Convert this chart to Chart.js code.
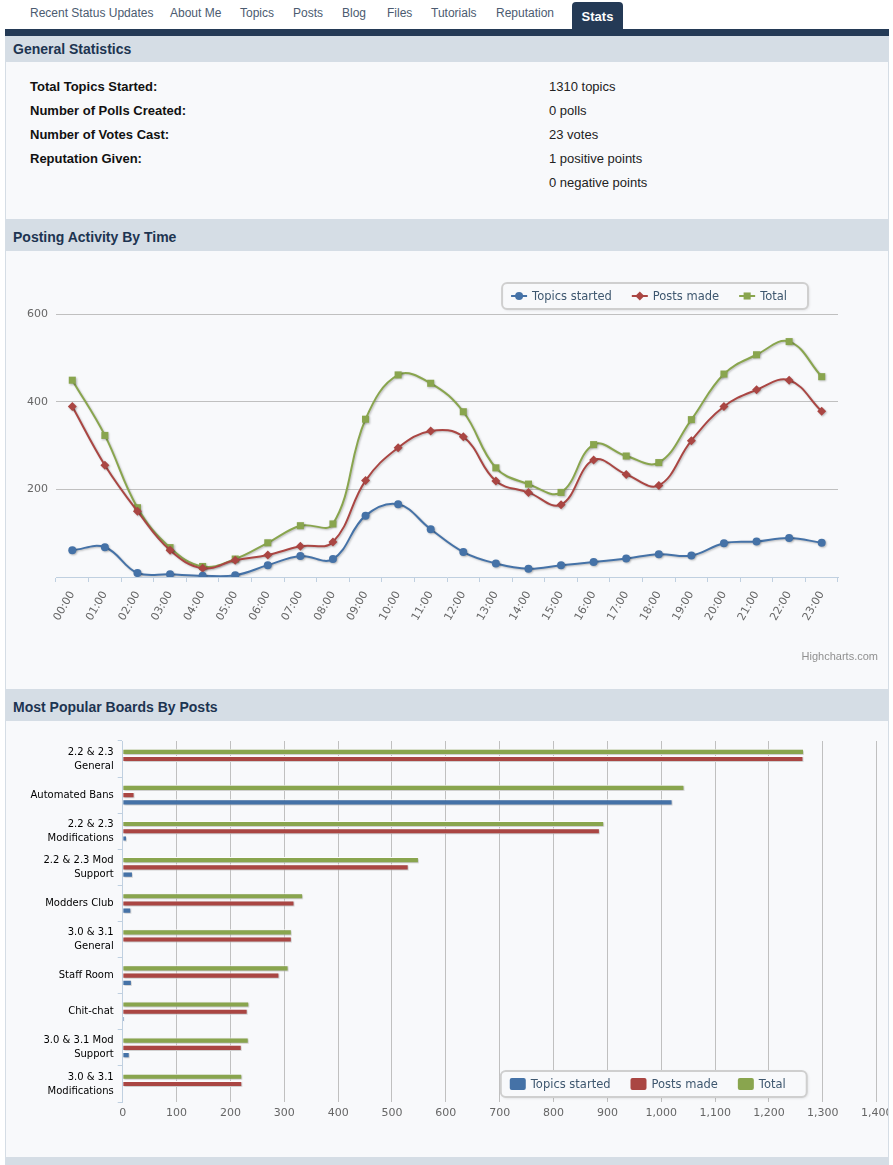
<!DOCTYPE html>
<html>
<head>
<meta charset="utf-8">
<title>Stats</title>
<script src="https://cdn.jsdelivr.net/npm/chart.js@4.4.1/dist/chart.umd.min.js"></script>
<style>
    body { margin: 0; width: 893px; height: 1165px; position: relative; overflow: hidden; background: #fff; font-family: "Liberation Sans", Arial, sans-serif; }
    .tab { position: absolute; top: 5px; line-height: 16px; font-size: 12px; color: #4b5b70; white-space: nowrap; }
    .tab.on { top: 2px; left: 572px; width: 51px; height: 27px; line-height: 29px; text-align: center; background: #243a56; border-radius: 4px 4px 0 0; color: #fff; font-weight: bold; font-size: 13px; }
    .rule { position: absolute; left: 5px; top: 29px; width: 884px; height: 7px; background: #243a56; }
    .head { position: absolute; left: 5px; width: 884px; box-sizing: border-box; padding-left: 8px; background: #d5dde5; color: #1d3451; font-weight: bold; font-size: 14px; }
    .panel { position: absolute; left: 5px; width: 884px; box-sizing: border-box; background: #f8f9fb; border-left: 1px solid #d5dde5; border-right: 1px solid #d5dde5; }
    .row { position: absolute; height: 24px; line-height: 24px; font-size: 13px; color: #222; white-space: nowrap; }
    .row b { color: #111; }
    .chartbox { position: absolute; left: 6px; overflow: hidden; }
    .credit { position: absolute; right: 15px; top: 650px; font-size: 11px; color: #909090; }
</style>
</head>
<body>

<div class="tab" style="left:30px">Recent Status Updates</div>
<div class="tab" style="left:170px">About Me</div>
<div class="tab" style="left:240px">Topics</div>
<div class="tab" style="left:293px">Posts</div>
<div class="tab" style="left:342px">Blog</div>
<div class="tab" style="left:387px">Files</div>
<div class="tab" style="left:431px">Tutorials</div>
<div class="tab" style="left:496px">Reputation</div>
<div class="tab on">Stats</div>
<div class="rule"></div>

<div class="head" style="top:36px;height:26px;line-height:27px">General Statistics</div>
<div class="panel" style="top:62px;height:157px"></div>
<div class="row" style="left:30px;top:75px"><b>Total Topics Started:</b></div>
<div class="row" style="left:549px;top:75px">1310 topics</div>
<div class="row" style="left:30px;top:99px"><b>Number of Polls Created:</b></div>
<div class="row" style="left:549px;top:99px">0 polls</div>
<div class="row" style="left:30px;top:123px"><b>Number of Votes Cast:</b></div>
<div class="row" style="left:549px;top:123px">23 votes</div>
<div class="row" style="left:30px;top:147px"><b>Reputation Given:</b></div>
<div class="row" style="left:549px;top:147px">1 positive points</div>
<div class="row" style="left:549px;top:171px">0 negative points</div>

<div class="head" style="top:219px;height:32px;line-height:37px">Posting Activity By Time</div>
<div class="panel" style="top:251px;height:438px"></div>
<div class="chartbox" style="top:251px;width:882px;height:438px">
    <canvas id="activityChart" width="882" height="438"></canvas>
</div>
<div class="credit">Highcharts.com</div>

<div class="head" style="top:689px;height:32px;line-height:36px">Most Popular Boards By Posts</div>
<div class="panel" style="top:721px;height:436px"></div>
<div class="chartbox" style="top:721px;width:882px;height:436px">
    <canvas id="boardsChart" width="900" height="436"></canvas>
</div>
<div class="head" style="top:1157px;height:8px"></div>

<script>
// posting activity per hour
const hours = ['00:00', '01:00', '02:00', '03:00', '04:00', '05:00', '06:00', '07:00', '08:00', '09:00', '10:00', '11:00',
    '12:00', '13:00', '14:00', '15:00', '16:00', '17:00', '18:00', '19:00', '20:00', '21:00', '22:00', '23:00'];
const topicsByHour = [61, 68, 9, 6, 3, 4, 27, 48, 41, 140, 166, 109, 57, 31, 19, 27, 34, 42, 52, 49, 77, 81, 89, 78];
const postsByHour = [389, 255, 150, 61, 20, 38, 50, 70, 80, 220, 295, 333, 320, 219, 193, 165, 267, 234, 209, 311, 389, 427, 449, 378];
const totalByHour = [449, 323, 158, 67, 24, 41, 78, 117, 121, 360, 461, 442, 377, 249, 212, 193, 302, 276, 261, 359, 463, 507, 537, 457];
const activityTicks = [200, 400, 600];

// posts per board
const boards = [['2.2 & 2.3', 'General'], 'Automated Bans', ['2.2 & 2.3', 'Modifications'], ['2.2 & 2.3 Mod', 'Support'],
    'Modders Club', ['3.0 & 3.1', 'General'], 'Staff Room', 'Chit-chat', ['3.0 & 3.1 Mod', 'Support'], ['3.0 & 3.1', 'Modifications']];
const boardTopics = [1, 1021, 8, 19, 16, 0, 17, 3, 13, 0];
const boardPosts = [1264, 22, 886, 531, 319, 314, 291, 232, 221, 222];
const boardTotal = [1265, 1043, 894, 550, 335, 314, 308, 235, 234, 222];
const boardTicks = [0, 100, 200, 300, 400, 500, 600, 700, 800, 900, 1000, 1100, 1200, 1300, 1400];

const BLUE = '#4572A7';
const RED = '#AA4643';
const GREEN = '#89A54E';

Chart.defaults.font.family = '"DejaVu Sans", sans-serif';
Chart.defaults.font.size = 11;
Chart.defaults.color = '#666';

// soft drop shadow under the series, like the original
const seriesShadow = {
    id: 'seriesShadow',
    beforeDatasetsDraw(chart) {
        const ctx = chart.ctx;
        ctx.save();
        ctx.shadowColor = 'rgba(0, 0, 0, 0.25)';
        ctx.shadowBlur = 2;
        ctx.shadowOffsetX = 1;
        ctx.shadowOffsetY = 1;
    },
    afterDatasetsDraw(chart) {
        chart.ctx.restore();
    }
};

function drawMarker(ctx, style, x, y, r) {
    ctx.beginPath();
    if (style === 'circle') {
        ctx.arc(x, y, r, 0, Math.PI * 2);
    } else if (style === 'rectRot') {
        ctx.moveTo(x - r, y);
        ctx.lineTo(x, y - r);
        ctx.lineTo(x + r, y);
        ctx.lineTo(x, y + r);
        ctx.closePath();
    } else {
        const s = r * Math.SQRT1_2;
        ctx.rect(x - s, y - s, 2 * s, 2 * s);
    }
    ctx.fill();
}

// legend in a rounded box, positioned from the plot area
const boxLegend = {
    id: 'boxLegend',
    afterDraw(chart, args, opts) {
        const { ctx, chartArea } = chart;
        const items = opts.order.map(i => chart.data.datasets[i]);

        ctx.save();
        ctx.font = '11.5px "DejaVu Sans"';
        const widths = items.map(d => ctx.measureText(d.label).width);
        const inner = widths.reduce((sum, w) => sum + 21 + w, 0) + 20 * (items.length - 1);
        const w = inner + 9 + 21;
        const h = 26;
        const x = chartArea.right - opts.right - w;
        const y = (opts.anchor === 'top' ? chartArea.top : chartArea.bottom) - opts.gap - h;

        ctx.shadowColor = 'rgba(0, 0, 0, 0.15)';
        ctx.shadowBlur = 3;
        ctx.shadowOffsetX = 1;
        ctx.shadowOffsetY = 1;
        ctx.beginPath();
        ctx.roundRect(x, y, w, h, 5);
        ctx.fillStyle = '#f8f9fb';
        ctx.fill();
        ctx.shadowColor = 'transparent';
        ctx.lineWidth = 2;
        ctx.strokeStyle = '#cfcfcf';
        ctx.stroke();

        let cx = x + 9;
        const cy = y + h / 2;
        ctx.textBaseline = 'middle';
        items.forEach((d, i) => {
            if (opts.marker === 'line') {
                ctx.strokeStyle = d.borderColor;
                ctx.lineWidth = 2;
                ctx.beginPath();
                ctx.moveTo(cx, cy);
                ctx.lineTo(cx + 16, cy);
                ctx.stroke();
                ctx.fillStyle = d.borderColor;
                drawMarker(ctx, d.pointStyle, cx + 8, cy, d.pointRadius);
            } else {
                ctx.fillStyle = d.backgroundColor;
                ctx.beginPath();
                ctx.roundRect(cx, cy - 6, 16, 12, 2);
                ctx.fill();
            }
            ctx.fillStyle = '#3e576f';
            ctx.fillText(d.label, cx + 21, cy + 1);
            cx += 21 + widths[i] + 20;
        });
        ctx.restore();
    }
};

new Chart(document.getElementById('activityChart'), {
    type: 'line',
    data: {
        labels: hours,
        datasets: [
            { label: 'Topics started', data: topicsByHour, borderColor: BLUE, backgroundColor: BLUE, pointStyle: 'circle', pointRadius: 4 },
            { label: 'Posts made', data: postsByHour, borderColor: RED, backgroundColor: RED, pointStyle: 'rectRot', pointRadius: 4.5 },
            { label: 'Total', data: totalByHour, borderColor: GREEN, backgroundColor: GREEN, pointStyle: 'rect', pointRadius: 5 }
        ]
    },
    options: {
        responsive: false,
        animation: false,
        events: [],
        layout: { padding: { top: 63, right: 50, bottom: 0, left: 0 } },
        elements: {
            line: { borderWidth: 2, tension: 0.4, fill: false },
            point: { borderWidth: 0, hoverRadius: 4 }
        },
        scales: {
            x: {
                offset: true,
                grid: { offset: true, drawOnChartArea: false, color: '#C0D0E0', tickLength: 5 },
                border: { color: '#C0D0E0' },
                ticks: { minRotation: 60, maxRotation: 60, autoSkip: false, padding: 7, color: '#666' },
                afterFit: s => { s.height = 112; }
            },
            y: {
                min: 0,
                max: 600,
                afterBuildTicks: s => { s.ticks = activityTicks.map(v => ({ value: v })); },
                grid: { color: '#C0C0C0', drawTicks: false },
                border: { display: false },
                ticks: { padding: 8, color: '#666' },
                afterFit: s => { s.width = 50; }
            }
        },
        plugins: {
            legend: { display: false },
            tooltip: { enabled: false },
            boxLegend: { order: [0, 1, 2], anchor: 'top', gap: 5, right: 30, marker: 'line' }
        }
    },
    plugins: [seriesShadow, boxLegend]
});

new Chart(document.getElementById('boardsChart'), {
    type: 'bar',
    data: {
        labels: boards,
        datasets: [
            { label: 'Total', data: boardTotal, backgroundColor: GREEN },
            { label: 'Posts made', data: boardPosts, backgroundColor: RED },
            { label: 'Topics started', data: boardTopics, backgroundColor: BLUE }
        ]
    },
    options: {
        indexAxis: 'y',
        responsive: false,
        animation: false,
        events: [],
        layout: { padding: { top: 20, right: 29.3, bottom: 0, left: 0 } },
        datasets: {
            bar: { categoryPercentage: 0.6, barPercentage: 0.85, borderColor: '#ffffff', borderWidth: 1 }
        },
        scales: {
            x: {
                min: 0,
                max: 1400,
                afterBuildTicks: s => { s.ticks = boardTicks.map(v => ({ value: v })); },
                grid: { color: '#C0C0C0', drawTicks: false },
                border: { display: false },
                ticks: { padding: 5, color: '#666' },
                afterFit: s => { s.height = 55; }
            },
            y: {
                grid: { offset: true, drawOnChartArea: false, color: '#C0D0E0', tickLength: 5 },
                border: { color: '#C0D0E0' },
                ticks: { padding: 4, color: '#000', font: { size: 10, lineHeight: 1.4 }, autoSkip: false },
                afterFit: s => { s.width = 116.7; }
            }
        },
        plugins: {
            legend: { display: false },
            tooltip: { enabled: false },
            boxLegend: { order: [2, 1, 0], anchor: 'bottom', gap: 5, right: 70, marker: 'block' }
        }
    },
    plugins: [seriesShadow, boxLegend]
});
</script>
</body>
</html>
